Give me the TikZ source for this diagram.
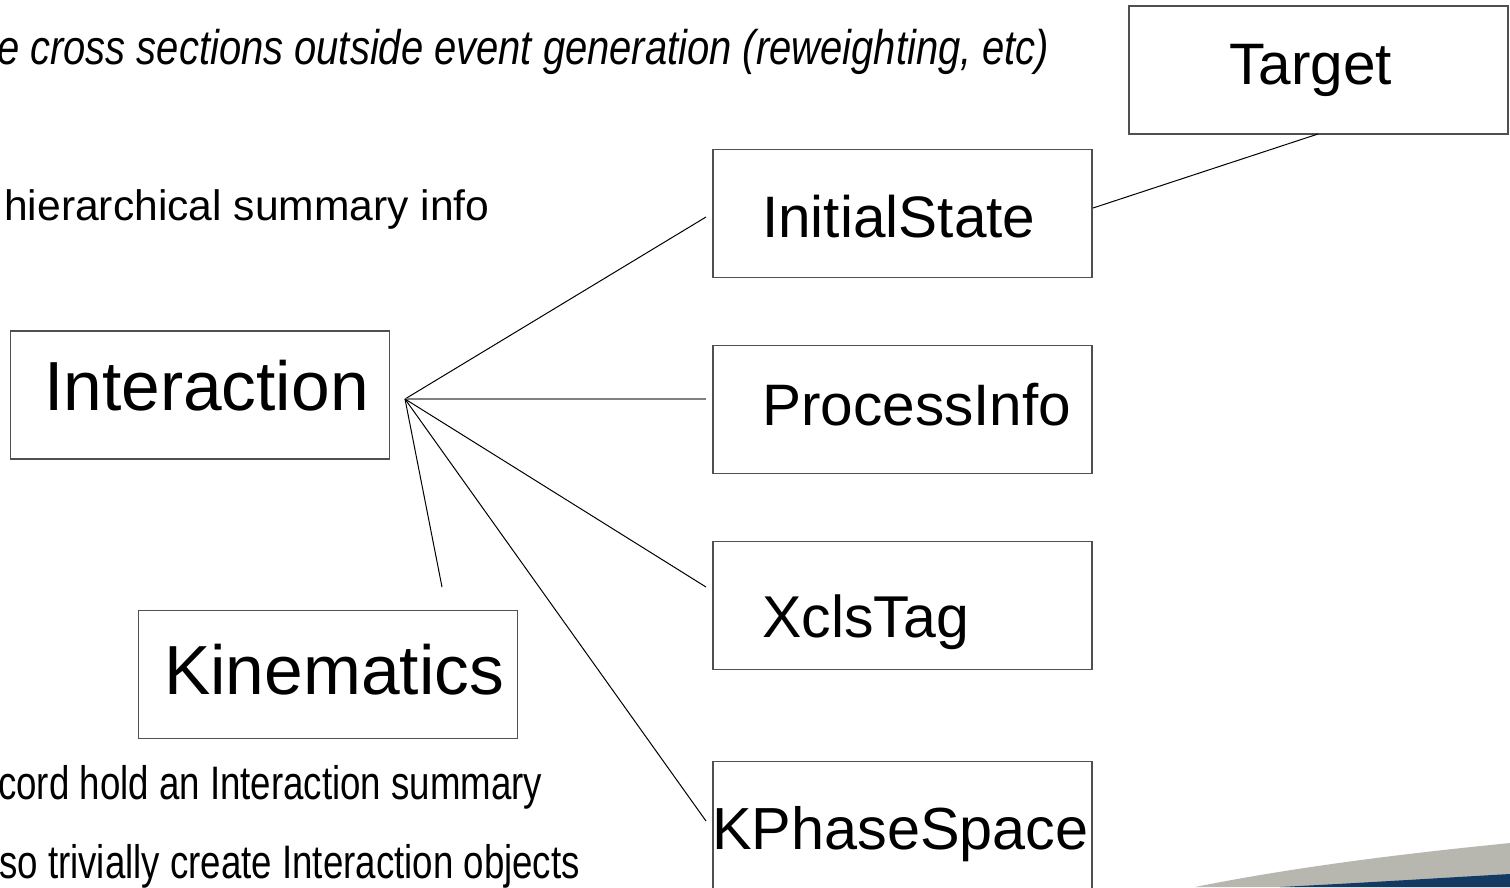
\documentclass[tikz,border=0pt]{standalone}
\usepackage{fontspec}
\setmainfont{Liberation Sans}
\newfontfamily\narrowfont[FakeStretch=0.82]{Liberation Sans}
\newfontfamily\narrowerfont[FakeStretch=0.78]{Liberation Sans}
\definecolor{boxline}{RGB}{80,80,80}
\definecolor{swgray}{RGB}{183,183,176}
\definecolor{swblue}{RGB}{18,58,98}
\tikzset{
  classbox/.style={draw=boxline, line width=1.3pt, rectangle, inner sep=0pt, minimum width=379pt, minimum height=128pt},
  classtext/.style={anchor=base west, inner sep=0pt, font=\fontsize{#1}{#1}\selectfont},
  conn/.style={draw=black, line width=1pt},
  bodytext/.style={anchor=base west, inner sep=0pt, font=\fontsize{42.6pt}{42.6pt}\selectfont},
  narrowtext/.style={anchor=base west, inner sep=0pt, font=\narrowerfont\fontsize{47pt}{47pt}\selectfont},
  italtext/.style={anchor=base west, inner sep=0pt, font=\narrowfont\itshape\fontsize{48.7pt}{48.7pt}\selectfont}
}
\begin{document}
\begin{tikzpicture}[x=1pt,y=-1pt]
\useasboundingbox (0,0) rectangle (1510,887);
\clip (0,0) rectangle (1510,887);
\fill[white] (0,0) rectangle (1510,887);

% swoosh
\fill[swgray] (1195,887) .. controls (1300,866) and (1410,853) .. (1510,843) -- (1510,887) -- cycle;
\fill[swblue] (1280,887) .. controls (1360,883) and (1440,878) .. (1510,874) -- (1510,887) -- cycle;

% slide text
\node[italtext] (t1) at (-3,64) {e cross sections outside event generation (reweighting, etc)};
\node[bodytext] (t2) at (4,220) {hierarchical summary info};
\node[narrowtext] (t3) at (-2,799) {cord hold an Interaction summary};
\node[narrowtext] (t4) at (-1,878) {so trivially create Interaction objects};

% boxes
\node[classbox] (target) at (1318.5,70) {};
\node[classbox] (initst) at (902.5,213.5) {};
\node[classbox] (procinfo) at (902.5,409.5) {};
\node[classbox] (xcls) at (902.5,605.5) {};
\node[classbox] (kps) at (902.5,825.5) {};
\node[classbox] (inter) at (200,395) {};
\node[classbox] (kine) at (328,674.5) {};

% box texts
\node[classtext=58.5pt] (targetlbl) at (1229,84) {Target};
\node[classtext=58.5pt] (initstlbl) at (762,237) {InitialState};
\node[classtext=69.5pt] (interlbl) at (44,410) {Interaction};
\node[classtext=58.5pt] (procinfolbl) at (762,425) {ProcessInfo};
\node[classtext=59pt] (xclslbl) at (762,637) {XclsTag};
\node[classtext=69.5pt] (kinelbl) at (164,694) {Kinematics};
\node[classtext=59.4pt] (kpslbl) at (712,849) {KPhaseSpace};

% connector ends
\coordinate (hub) at (405,399);
\coordinate (eInit) at (706,217);
\coordinate (eProc) at (706,399);
\coordinate (eXcls) at (706,587);
\coordinate (eKps) at (706,821);
\coordinate (eKine) at (442,587);
\coordinate (eTgt) at (1318,134);
\coordinate (eInitR) at (1093,208);

\draw[conn] (hub) -- (eInit);
\draw[conn,draw=gray,line width=1.3pt] (hub) -- (eProc);
\draw[conn] (hub) -- (eXcls);
\draw[conn] (hub) -- (eKps);
\draw[conn] (hub) -- (eKine);
\draw[conn] (eTgt) -- (eInitR);
\end{tikzpicture}
\end{document}
